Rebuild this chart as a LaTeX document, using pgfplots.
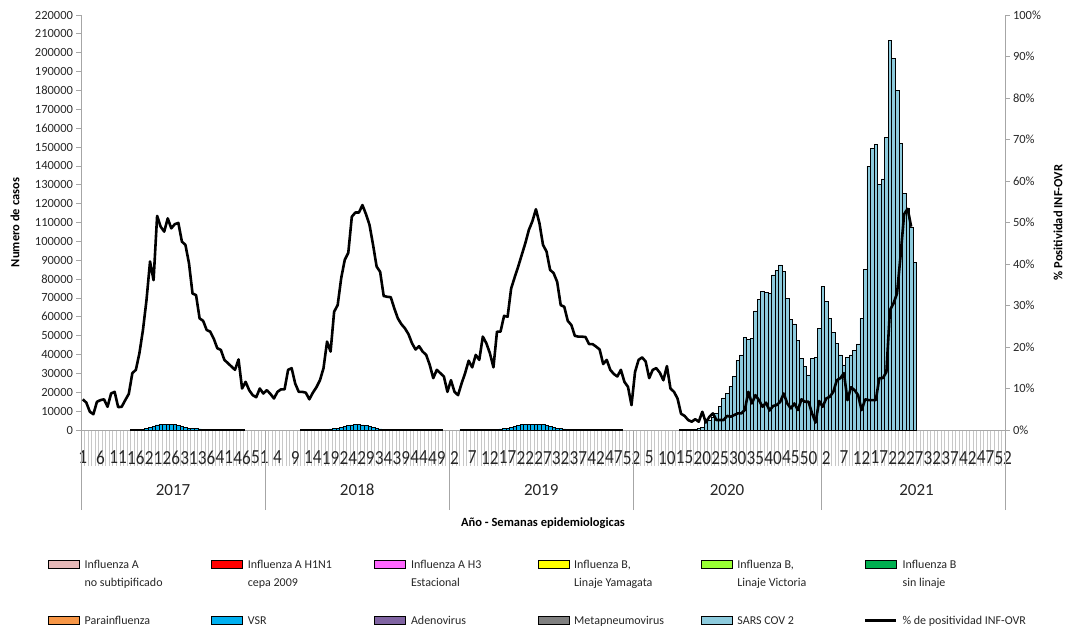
\documentclass[border=0pt]{standalone}
\usepackage{pgfplots}
\pgfplotsset{compat=1.18}
\usepackage{pgfplotstable}
\usepackage{fontspec}
\setmainfont{Carlito}
\newfontfamily\narrowfont{Carlito}[FakeStretch=0.86]
\definecolor{cInfA}{HTML}{E6B9B8}
\definecolor{cHone}{HTML}{FF0000}
\definecolor{cHthree}{HTML}{FF66FF}
\definecolor{cYam}{HTML}{FFFF00}
\definecolor{cVic}{HTML}{99FF33}
\definecolor{cBsl}{HTML}{00B050}
\definecolor{cPara}{HTML}{F79646}
\definecolor{cVSR}{HTML}{00B0F0}
\definecolor{cAdeno}{HTML}{8064A2}
\definecolor{cMeta}{HTML}{808080}
\definecolor{cSars}{HTML}{8DCBDD}
\definecolor{axgray}{HTML}{A6A6A6}
\definecolor{tkgray}{HTML}{C8C8C8}

% % positividad INF-OVR, weekly, 2017 w1 ... 2021 w26 (x = week index from 0)
\pgfplotstableread[row sep=\\]{
v\\
7.4\\6.6\\4.4\\3.8\\6.8\\7.2\\7.4\\5.6\\8.8\\9.2\\5.5\\5.6\\7.2\\8.7\\13.7\\14.5\\18.5\\24.1\\31.3\\40.6\\36.1\\51.6\\49\\47.8\\51\\48.6\\49.6\\49.9\\45.4\\44.6\\40.2\\32.9\\32.5\\26.9\\26.3\\24.1\\23.7\\22.0\\19.7\\19.3\\16.9\\16.1\\15.3\\14.5\\17\\10\\11.6\\9.6\\8.4\\7.9\\10\\8.8\\
9.6\\8.7\\7.6\\9.2\\9.8\\9.8\\14.5\\14.9\\11.2\\9.2\\9.2\\9.0\\7.4\\9.0\\10.3\\12.0\\14.9\\21.3\\18.9\\28.5\\30.1\\36.6\\41.0\\42.7\\51.4\\52.4\\52.4\\54.2\\52.0\\49.4\\44.6\\39.4\\38.1\\32.3\\32.1\\32.0\\29.3\\26.9\\25.5\\24.5\\23.1\\20.9\\19.4\\20.2\\18.9\\18.1\\15.7\\12.5\\14.5\\13.7\\12.9\\9.2\\
12.0\\9.2\\8.4\\11.2\\13.7\\16.7\\15.1\\18.1\\16.9\\22.5\\20.9\\18.5\\15.1\\23.7\\23.7\\27.5\\27.3\\34.1\\36.8\\39.4\\42.2\\45.0\\48.2\\50.3\\53.2\\49.8\\44.6\\43.0\\38.6\\37.8\\35.7\\30.1\\29.7\\26.3\\25.3\\22.7\\22.5\\22.5\\22.4\\20.7\\20.7\\20.1\\19.4\\15.9\\16.9\\14.5\\13.5\\12.9\\14.5\\11.6\\10.4\\6.0\\
14.0\\16.9\\17.5\\16.5\\12.5\\14.5\\14.9\\13.8\\12.0\\15.4\\10.0\\9.2\\7.6\\3.9\\3.4\\2.4\\2.0\\2.6\\2.0\\4.4\\1.8\\3.2\\4.0\\2.4\\2.4\\2.4\\3.4\\3.2\\3.6\\4.0\\4.0\\4.8\\9.2\\6.4\\8.4\\7.2\\5.6\\6.6\\4.7\\5.8\\6.0\\6.8\\8.8\\6.4\\5.2\\6.4\\4.8\\7.4\\6.8\\6.8\\4.0\\1.8\\7.0\\
5.6\\7.6\\8.0\\9.2\\12.0\\12.5\\13.7\\7.2\\10.3\\9.6\\8.4\\4.8\\7.4\\7.2\\7.2\\7.2\\12.5\\12.5\\14.0\\28.9\\30.5\\32.9\\42.0\\52.0\\53.3\\49.0\\
}\linetab

% SARS COV 2 cases, from 2020 w14 (index 169) to 2021 w27 (index 235)
\pgfplotstableread[row sep=\\]{
v\\
300\\400\\400\\500\\600\\800\\1500\\3900\\5300\\6700\\8800\\12400\\17000\\19300\\23300\\28300\\36700\\39800\\49100\\48100\\48500\\63100\\69300\\73300\\72800\\72500\\82200\\84800\\87500\\83900\\69800\\58700\\56200\\47700\\38000\\33900\\29200\\38000\\38500\\54000\\
76000\\68000\\59200\\51600\\45900\\39800\\34500\\38300\\39800\\42400\\45600\\59200\\85200\\139900\\149300\\151600\\130400\\133100\\155200\\206700\\197000\\179900\\152000\\125500\\117500\\107200\\88700\\
}\sarstab

% VSR cases
\pgfplotstableread[row sep=\\]{
v\\
300\\300\\400\\500\\700\\1200\\1900\\2700\\3000\\3000\\3000\\3000\\2800\\2500\\2000\\1500\\1000\\800\\700\\600\\500\\500\\400\\400\\400\\400\\400\\300\\300\\300\\300\\300\\
}\vsrA
\pgfplotstableread[row sep=\\]{
v\\
300\\300\\300\\300\\300\\300\\400\\500\\600\\800\\1000\\1500\\2000\\2500\\2700\\2800\\2800\\2700\\2400\\1800\\1200\\800\\600\\500\\500\\400\\400\\400\\400\\400\\300\\300\\300\\300\\300\\300\\300\\300\\300\\300\\
}\vsrB
\pgfplotstableread[row sep=\\]{
v\\
300\\300\\300\\300\\300\\300\\300\\300\\400\\400\\500\\600\\800\\1000\\1500\\2000\\2500\\2800\\3000\\3000\\3100\\3000\\3000\\2800\\2500\\2000\\1400\\900\\700\\600\\500\\500\\400\\400\\400\\400\\300\\300\\300\\300\\300\\300\\300\\300\\300\\300\\
}\vsrC

\pgfplotsset{
  legbar/.style={legend image code/.code={\draw[draw=black, line width=0.6pt, ##1] (0pt,0pt) rectangle (31pt,7.5pt);}},
  legline/.style={legend image code/.code={\draw[##1] (0pt,3.7pt) -- (31pt,3.7pt);}},
}
\newcommand{\lt}[1]{\parbox[t]{120pt}{\raggedright #1}}

\begin{document}
\begin{tikzpicture}
\path[use as bounding box] (0pt,0pt) rectangle (1068pt,-629pt);
\begin{axis}[
  at={(81pt,-430pt)}, anchor=south west,
  width=924pt, height=415pt, scale only axis,
  xmin=-0.5, xmax=260.5, ymin=0, ymax=220000,
  clip=false,
  axis x line*=bottom, axis y line*=left,
  axis line style={-, draw=axgray, line width=0.8pt},
  tick align=outside,
  major tick length=4.5pt,
  ytick={0,10000,...,220000},
  scaled y ticks=false,
  /pgf/number format/fixed,
  /pgf/number format/1000 sep={},
  /pgf/number format/assume math mode=true,
  yticklabel style={font=\fontsize{12.5}{14}\selectfont, text=black!85},
  ytick style={draw=axgray, line width=0.8pt},
  xtick={0,5,...,260},
  xticklabels={1,6,11,16,21,26,31,36,41,46,51,4,9,14,19,24,29,34,39,44,49,2,7,12,17,22,27,32,37,42,47,52,5,10,15,20,25,30,35,40,45,50,2,7,12,17,22,27,32,37,42,47,52},
  xticklabel style={font=\narrowfont\fontsize{20}{22}\selectfont, text=black!85, yshift=-13pt},
  major x tick style={draw=none},
  minor xtick={-0.5,0.5,...,260.5},
  minor tick length=36pt,
  minor x tick style={draw=tkgray, line width=0.8pt},
  extra x ticks={-0.5,51.5,103.5,155.5,208.5,260.5},
  extra x tick labels={},
  extra x tick style={major tick length=80pt, major x tick style={draw=axgray, line width=0.8pt}},
  ylabel={Numero de casos},
  ylabel style={font=\bfseries\fontsize{12.5}{14}\selectfont, at={(axis description cs:-0.0714,0.5)}, anchor=center},
]
\addplot[ybar, bar width=1, bar shift=0pt, fill=cVSR, draw=black, line width=0.5pt] table[x expr=\coordindex+14, y index=0] \vsrA;
\addplot[ybar, bar width=1, bar shift=0pt, fill=cVSR, draw=black, line width=0.5pt] table[x expr=\coordindex+62, y index=0] \vsrB;
\addplot[ybar, bar width=1, bar shift=0pt, fill=cVSR, draw=black, line width=0.5pt] table[x expr=\coordindex+107, y index=0] \vsrC;
\addplot[ybar, bar width=1, bar shift=0pt, fill=cSars, draw=black, line width=0.6pt] table[x expr=\coordindex+169, y index=0] \sarstab;
\node[font=\fontsize{17}{20}\selectfont, text=black!85, yshift=-60pt] at (axis cs:25.5,0) {2017};
\node[font=\fontsize{17}{20}\selectfont, text=black!85, yshift=-60pt] at (axis cs:77.5,0) {2018};
\node[font=\fontsize{17}{20}\selectfont, text=black!85, yshift=-60pt] at (axis cs:129.5,0) {2019};
\node[font=\fontsize{17}{20}\selectfont, text=black!85, yshift=-60pt] at (axis cs:182,0) {2020};
\node[font=\fontsize{17}{20}\selectfont, text=black!85, yshift=-60pt] at (axis cs:235.5,0) {2021};
\node[font=\bfseries\fontsize{12.5}{14}\selectfont, yshift=-93pt] at (rel axis cs:0.5,0) {Año - Semanas epidemiologicas};
\end{axis}

\begin{axis}[
  at={(81pt,-430pt)}, anchor=south west,
  width=924pt, height=415pt, scale only axis,
  xmin=-0.5, xmax=260.5, ymin=0, ymax=100,
  clip=false,
  axis x line=none, axis y line*=right,
  axis line style={-, draw=axgray, line width=0.8pt},
  tick align=outside, major tick length=4.5pt,
  ytick={0,10,...,100},
  ytick style={draw=axgray, line width=0.8pt},
  /pgf/number format/fixed,
  /pgf/number format/assume math mode=true,
  yticklabel={\pgfmathprintnumber{\tick}\%},
  yticklabel style={font=\fontsize{12.5}{14}\selectfont, text=black!85},
  ylabel={\% Positividad INF-OVR},
  ylabel style={font=\bfseries\fontsize{12.5}{14}\selectfont, at={(axis description cs:1.0575,0.5)}, anchor=center},
  legend columns=6,
  legend style={at={(axis description cs:-0.0357,-0.3084)}, anchor=north west, draw=none, fill=none, inner sep=0pt, outer sep=0pt,
    font=\fontsize{12}{18}\selectfont, text=black!85,
    nodes={anchor=base west, inner sep=2pt},
    /tikz/every odd column/.append style={column sep=3pt},
    /tikz/every even column/.append style={column sep=4.6pt},
    row sep=42pt},
]
\addlegendimage{legbar, fill=cInfA}\addlegendentry{\lt{Influenza A\\no subtipificado}}
\addlegendimage{legbar, fill=cHone}\addlegendentry{\lt{Influenza A H1N1\\cepa 2009}}
\addlegendimage{legbar, fill=cHthree}\addlegendentry{\lt{Influenza A H3\\Estacional}}
\addlegendimage{legbar, fill=cYam}\addlegendentry{\lt{Influenza B,\\Linaje Yamagata}}
\addlegendimage{legbar, fill=cVic}\addlegendentry{\lt{Influenza B,\\Linaje Victoria}}
\addlegendimage{legbar, fill=cBsl}\addlegendentry{\lt{Influenza B\\sin linaje}}
\addlegendimage{legbar, fill=cPara}\addlegendentry{\lt{Parainfluenza}}
\addlegendimage{legbar, fill=cVSR}\addlegendentry{\lt{VSR}}
\addlegendimage{legbar, fill=cAdeno}\addlegendentry{\lt{Adenovirus}}
\addlegendimage{legbar, fill=cMeta}\addlegendentry{\lt{Metapneumovirus}}
\addlegendimage{legbar, fill=cSars}\addlegendentry{\lt{SARS COV 2}}
\addplot[black, line width=2.6pt, line join=round, mark=none, legline] table[x expr=\coordindex, y index=0] \linetab;
\addlegendentry{\parbox[t]{150pt}{\raggedright\% de positividad INF-OVR}}
\end{axis}
\end{tikzpicture}
\end{document}
